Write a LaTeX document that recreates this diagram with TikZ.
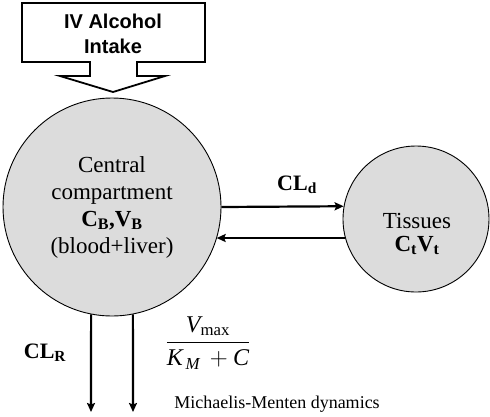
\documentclass[tikz,border=0pt]{standalone}
\usepackage{amsmath}
\usepackage{fontspec}
\setmainfont{Liberation Serif}
\newfontfamily\intakefont{Liberation Sans}
\usetikzlibrary{calc}
\usetikzlibrary{positioning}
\usetikzlibrary{arrows.meta}
\tikzset{every picture/.style={semithick, >={Stealth[length=9pt,width=8pt,inset=1.5pt]}}}
\definecolor{compGray}{RGB}{220,220,220}
\tikzset{compartment/.style={circle, draw, line width=0.9pt, fill=compGray, inner sep=0pt}}
\tikzset{flow/.style={->, line width=2.2pt}}

\begin{document}
\begin{tikzpicture}[x=1pt, y=-1pt]
		\def\boxL{22}
		\def\boxR{205}
		\def\boxT{3}
		\def\boxB{62}
		\def\stemL{90}
		\def\stemR{137}
		\def\headY{76}
		\def\tipX{113}
		\def\tipY{92}

		\useasboundingbox (0,0) rectangle (490,416);

		\node[compartment, minimum size=218pt, align=center, font=\fontsize{23}{27}\selectfont] (central) at (112,207) {Central\\compartment\\\textbf{C\textsubscript{B},V\textsubscript{B}}\\(blood+liver)};
		\node[compartment, minimum size=146pt] (tissues) at (416,219) {};
		\node[align=center, font=\fontsize{23}{23}\selectfont] (tissuesText) at (417,234) {Tissues\\\textbf{C\textsubscript{t}V\textsubscript{t}}};

		\draw[line width=1.8pt, line join=miter, fill=white] (\boxL,\boxT) -- (\boxR,\boxT) -- (\boxR,\boxB) -- (\stemR,\boxB) -- (\stemR,\headY) -- (165,\headY) -- (\tipX,\tipY) -- (60,\headY) -- (\stemL,\headY) -- (\stemL,\boxB) -- (\boxL,\boxB) -- cycle;
		\node[align=center, font=\intakefont\bfseries\fontsize{20}{25}\selectfont] (intake) at (113,34) {IV Alcohol\\Intake};

		\coordinate (renal) at (91,412);
		\coordinate (metab) at (133,412);

		\draw[flow] (central.0) -- (tissues.170);
		\draw[flow] (tissues.195) -- (tissues.195 -| central.-17);
		\draw[flow] (central.-101) -- (renal);
		\draw[flow] (central.-79) -- (metab);

		\node[font=\fontsize{22}{26}\selectfont] (cld) at (297,185) {\textbf{CL\textsubscript{d}}};
		\node[font=\fontsize{22}{26}\selectfont] (clr) at (45,353) {\textbf{CL\textsubscript{R}}};
		\node[font=\fontsize{24}{28}\selectfont] (mm) at (208,343) {$\dfrac{\textit{V}_{\text{max}}}{\textit{K}_{\,\textit{M}}\,+\textit{C}}$};
		\node[font=\fontsize{18}{22}\selectfont] (mmText) at (277,404) {Michaelis-Menten dynamics};
\end{tikzpicture}
\end{document}
